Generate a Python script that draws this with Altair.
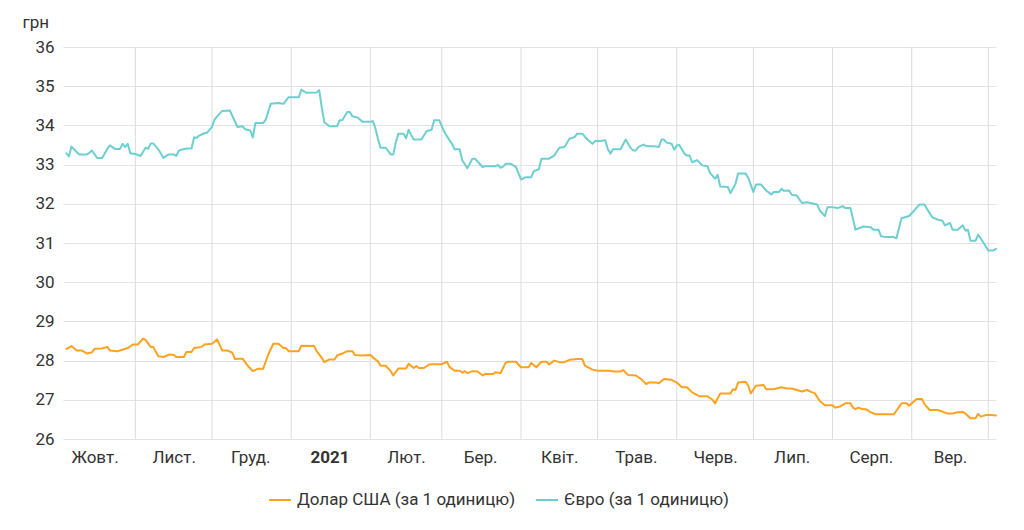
import altair as alt
import pandas as pd

usd_name = "Долар США (за 1 одиницю)"
eur_name = "Євро (за 1 одиницю)"

usd_dates = [
    "2020-10-05", "2020-10-07", "2020-10-09", "2020-10-11", "2020-10-12", "2020-10-13", "2020-10-15",
    "2020-10-16", "2020-10-19", "2020-10-21", "2020-10-22", "2020-10-25", "2020-10-29", "2020-10-31",
    "2020-11-02", "2020-11-04", "2020-11-05", "2020-11-07", "2020-11-08", "2020-11-10", "2020-11-12",
    "2020-11-14", "2020-11-16", "2020-11-17", "2020-11-20", "2020-11-21", "2020-11-23", "2020-11-24",
    "2020-11-27", "2020-11-28", "2020-12-01", "2020-12-03", "2020-12-05", "2020-12-07", "2020-12-09",
    "2020-12-10", "2020-12-12", "2020-12-13", "2020-12-15", "2020-12-17", "2020-12-19", "2020-12-21",
    "2020-12-23", "2020-12-25", "2020-12-27", "2020-12-29", "2020-12-30", "2020-12-31", "2021-01-04",
    "2021-01-05", "2021-01-10", "2021-01-11", "2021-01-13", "2021-01-14", "2021-01-16", "2021-01-18",
    "2021-01-19", "2021-01-21", "2021-01-23", "2021-01-25", "2021-01-26", "2021-01-29", "2021-02-01",
    "2021-02-03", "2021-02-04", "2021-02-05", "2021-02-07", "2021-02-09", "2021-02-10", "2021-02-12",
    "2021-02-15", "2021-02-16", "2021-02-18", "2021-02-19", "2021-02-20", "2021-02-22", "2021-02-24",
    "2021-02-26", "2021-03-01", "2021-03-03", "2021-03-04", "2021-03-06", "2021-03-08", "2021-03-09",
    "2021-03-10", "2021-03-11", "2021-03-13", "2021-03-15", "2021-03-17", "2021-03-18", "2021-03-21",
    "2021-03-22", "2021-03-24", "2021-03-26", "2021-03-27", "2021-03-30", "2021-04-01", "2021-04-04",
    "2021-04-05", "2021-04-07", "2021-04-09", "2021-04-11", "2021-04-12", "2021-04-14", "2021-04-16",
    "2021-04-18", "2021-04-20", "2021-04-23", "2021-04-25", "2021-04-26", "2021-04-29", "2021-05-01",
    "2021-05-05", "2021-05-08", "2021-05-10", "2021-05-11", "2021-05-13", "2021-05-16", "2021-05-18",
    "2021-05-20", "2021-05-21", "2021-05-24", "2021-05-25", "2021-05-27", "2021-05-30", "2021-06-01",
    "2021-06-03", "2021-06-05", "2021-06-07", "2021-06-10", "2021-06-13", "2021-06-15", "2021-06-16",
    "2021-06-18", "2021-06-22", "2021-06-23", "2021-06-24", "2021-06-25", "2021-06-28", "2021-06-29",
    "2021-06-30", "2021-07-02", "2021-07-05", "2021-07-06", "2021-07-09", "2021-07-10", "2021-07-12",
    "2021-07-14", "2021-07-16", "2021-07-18", "2021-07-20", "2021-07-22", "2021-07-24", "2021-07-25",
    "2021-07-27", "2021-07-29", "2021-08-01", "2021-08-02", "2021-08-04", "2021-08-06", "2021-08-08",
    "2021-08-09", "2021-08-10", "2021-08-11", "2021-08-13", "2021-08-14", "2021-08-16", "2021-08-18",
    "2021-08-25", "2021-08-26", "2021-08-28", "2021-08-30", "2021-08-31", "2021-09-02", "2021-09-03",
    "2021-09-05", "2021-09-06", "2021-09-08", "2021-09-11", "2021-09-13", "2021-09-15", "2021-09-17",
    "2021-09-19", "2021-09-21", "2021-09-22", "2021-09-24", "2021-09-26", "2021-09-27", "2021-09-28",
    "2021-09-30", "2021-10-02", "2021-10-04",
]
usd_values = [
    28.30, 28.37, 28.26, 28.26, 28.22, 28.18, 28.21,
    28.30, 28.31, 28.35, 28.26, 28.24, 28.32, 28.41,
    28.41, 28.56, 28.53, 28.35, 28.35, 28.11, 28.09,
    28.15, 28.15, 28.09, 28.09, 28.22, 28.22, 28.32,
    28.35, 28.41, 28.43, 28.54, 28.26, 28.26, 28.20,
    28.04, 28.05, 28.05, 27.87, 27.73, 27.79, 27.79,
    28.15, 28.43, 28.43, 28.32, 28.32, 28.24, 28.24,
    28.38, 28.37, 28.24, 28.07, 27.96, 28.03, 28.03,
    28.13, 28.18, 28.24, 28.24, 28.14, 28.13, 28.14,
    28.03, 27.98, 27.87, 27.87, 27.73, 27.62, 27.80,
    27.80, 27.92, 27.81, 27.86, 27.81, 27.81, 27.90,
    27.91, 27.91, 27.97, 27.84, 27.74, 27.74, 27.69,
    27.73, 27.68, 27.73, 27.72, 27.62, 27.66, 27.66,
    27.70, 27.68, 27.95, 27.97, 27.97, 27.83, 27.83,
    27.94, 27.83, 27.97, 27.97, 27.90, 28.00, 27.96,
    27.96, 28.02, 28.04, 28.04, 27.87, 27.77, 27.74,
    27.74, 27.72, 27.72, 27.76, 27.63, 27.62, 27.53,
    27.40, 27.44, 27.44, 27.42, 27.53, 27.51, 27.44,
    27.32, 27.32, 27.19, 27.09, 27.09, 27.00, 26.91,
    27.16, 27.16, 27.27, 27.25, 27.44, 27.46, 27.36,
    27.16, 27.36, 27.38, 27.27, 27.27, 27.29, 27.32,
    27.29, 27.29, 27.25, 27.21, 27.25, 27.19, 27.17,
    26.97, 26.86, 26.86, 26.80, 26.83, 26.91, 26.91,
    26.80, 26.76, 26.80, 26.76, 26.76, 26.68, 26.63,
    26.63, 26.72, 26.91, 26.91, 26.85, 26.97, 27.02,
    27.02, 26.89, 26.74, 26.74, 26.70, 26.65, 26.65,
    26.68, 26.69, 26.65, 26.53, 26.53, 26.64, 26.57,
    26.61, 26.61, 26.60,
]

eur_dates = [
    "2020-10-05", "2020-10-06", "2020-10-07", "2020-10-09", "2020-10-10", "2020-10-13", "2020-10-14",
    "2020-10-15", "2020-10-17", "2020-10-19", "2020-10-21", "2020-10-22", "2020-10-24", "2020-10-26",
    "2020-10-27", "2020-10-28", "2020-10-29", "2020-10-30", "2020-11-01", "2020-11-03", "2020-11-05",
    "2020-11-06", "2020-11-07", "2020-11-08", "2020-11-10", "2020-11-12", "2020-11-14", "2020-11-16",
    "2020-11-17", "2020-11-18", "2020-11-19", "2020-11-21", "2020-11-23", "2020-11-24", "2020-11-25",
    "2020-11-26", "2020-11-28", "2020-11-29", "2020-12-01", "2020-12-02", "2020-12-03", "2020-12-05",
    "2020-12-08", "2020-12-09", "2020-12-11", "2020-12-13", "2020-12-14", "2020-12-16", "2020-12-17",
    "2020-12-18", "2020-12-21", "2020-12-22", "2020-12-24", "2020-12-27", "2020-12-29", "2020-12-30",
    "2020-12-31", "2021-01-04", "2021-01-05", "2021-01-07", "2021-01-11", "2021-01-12", "2021-01-13",
    "2021-01-14", "2021-01-16", "2021-01-19", "2021-01-20", "2021-01-21", "2021-01-23", "2021-01-24",
    "2021-01-25", "2021-01-27", "2021-01-29", "2021-02-01", "2021-02-02", "2021-02-03", "2021-02-04",
    "2021-02-05", "2021-02-07", "2021-02-09", "2021-02-10", "2021-02-11", "2021-02-12", "2021-02-14",
    "2021-02-15", "2021-02-16", "2021-02-17", "2021-02-18", "2021-02-21", "2021-02-23", "2021-02-25",
    "2021-02-26", "2021-02-28", "2021-03-02", "2021-03-04", "2021-03-05", "2021-03-06", "2021-03-08",
    "2021-03-09", "2021-03-11", "2021-03-13", "2021-03-14", "2021-03-17", "2021-03-18", "2021-03-22",
    "2021-03-23", "2021-03-24", "2021-03-25", "2021-03-26", "2021-03-28", "2021-03-30", "2021-04-01",
    "2021-04-03", "2021-04-05", "2021-04-06", "2021-04-08", "2021-04-09", "2021-04-12", "2021-04-14",
    "2021-04-16", "2021-04-18", "2021-04-20", "2021-04-22", "2021-04-23", "2021-04-25", "2021-04-27",
    "2021-04-29", "2021-04-30", "2021-05-02", "2021-05-04", "2021-05-05", "2021-05-06", "2021-05-07",
    "2021-05-10", "2021-05-12", "2021-05-14", "2021-05-15", "2021-05-16", "2021-05-17", "2021-05-19",
    "2021-05-20", "2021-05-23", "2021-05-25", "2021-05-26", "2021-05-27", "2021-05-28", "2021-05-30",
    "2021-05-31", "2021-06-01", "2021-06-02", "2021-06-04", "2021-06-05", "2021-06-06", "2021-06-07",
    "2021-06-09", "2021-06-11", "2021-06-13", "2021-06-14", "2021-06-16", "2021-06-17", "2021-06-18",
    "2021-06-21", "2021-06-22", "2021-06-24", "2021-06-25", "2021-06-28", "2021-06-29", "2021-07-01",
    "2021-07-02", "2021-07-04", "2021-07-06", "2021-07-08", "2021-07-09", "2021-07-11", "2021-07-12",
    "2021-07-13", "2021-07-15", "2021-07-16", "2021-07-18", "2021-07-20", "2021-07-22", "2021-07-26",
    "2021-07-27", "2021-07-29", "2021-07-30", "2021-08-01", "2021-08-03", "2021-08-05", "2021-08-06",
    "2021-08-08", "2021-08-10", "2021-08-13", "2021-08-16", "2021-08-17", "2021-08-19", "2021-08-20",
    "2021-08-22", "2021-08-25", "2021-08-26", "2021-08-28", "2021-08-31", "2021-09-02", "2021-09-04",
    "2021-09-06", "2021-09-07", "2021-09-09", "2021-09-11", "2021-09-13", "2021-09-14", "2021-09-16",
    "2021-09-17", "2021-09-19", "2021-09-21", "2021-09-22", "2021-09-23", "2021-09-24", "2021-09-26",
    "2021-09-27", "2021-09-28", "2021-10-01", "2021-10-03", "2021-10-04",
]
eur_values = [
    33.29, 33.21, 33.46, 33.32, 33.26, 33.26, 33.30,
    33.36, 33.17, 33.17, 33.40, 33.49, 33.40, 33.40,
    33.53, 33.45, 33.53, 33.29, 33.27, 33.22, 33.43,
    33.40, 33.54, 33.54, 33.39, 33.17, 33.26, 33.26,
    33.22, 33.35, 33.38, 33.41, 33.41, 33.70, 33.68,
    33.74, 33.80, 33.81, 33.96, 34.15, 34.23, 34.37,
    34.38, 34.24, 33.96, 33.98, 33.90, 33.87, 33.69,
    34.06, 34.06, 34.14, 34.55, 34.57, 34.55, 34.63,
    34.72, 34.72, 34.91, 34.83, 34.84, 34.90, 34.45,
    34.08, 33.98, 33.98, 34.13, 34.13, 34.34, 34.34,
    34.23, 34.20, 34.09, 34.09, 34.11, 33.92, 33.66,
    33.43, 33.43, 33.26, 33.26, 33.57, 33.79, 33.79,
    33.67, 33.89, 33.75, 33.64, 33.64, 33.85, 33.89,
    34.13, 34.13, 33.83, 33.62, 33.53, 33.39, 33.39,
    33.11, 32.91, 33.15, 33.15, 32.94, 32.96, 32.96,
    32.99, 32.92, 32.95, 33.02, 33.02, 32.94, 32.62,
    32.68, 32.68, 32.83, 32.88, 33.15, 33.15, 33.23,
    33.43, 33.45, 33.66, 33.70, 33.79, 33.79, 33.64,
    33.53, 33.60, 33.60, 33.62, 33.40, 33.28, 33.39,
    33.39, 33.64, 33.42, 33.36, 33.36, 33.45, 33.51,
    33.47, 33.47, 33.45, 33.64, 33.64, 33.56, 33.53,
    33.38, 33.49, 33.50, 33.28, 33.23, 33.23, 33.06,
    33.11, 32.98, 32.96, 32.79, 32.64, 32.74, 32.44,
    32.43, 32.27, 32.51, 32.77, 32.77, 32.66, 32.30,
    32.49, 32.49, 32.34, 32.24, 32.30, 32.30, 32.38,
    32.33, 32.34, 32.23, 32.21, 32.02, 32.04, 31.98,
    31.83, 31.69, 31.91, 31.91, 31.89, 31.94, 31.89,
    31.89, 31.34, 31.42, 31.40, 31.34, 31.34, 31.17,
    31.15, 31.15, 31.12, 31.63, 31.69, 31.83, 31.98,
    31.98, 31.87, 31.66, 31.60, 31.57, 31.45, 31.51,
    31.34, 31.34, 31.45, 31.32, 31.34, 31.06, 31.06,
    31.21, 31.12, 30.81, 30.81, 30.85,
]

month_starts = [
    "2020-11-01", "2020-12-01", "2021-01-01", "2021-02-01", "2021-03-01", "2021-04-01",
    "2021-05-01", "2021-06-01", "2021-07-01", "2021-08-01", "2021-09-01", "2021-10-01",
]
label_dates = [
    "2020-10-16", "2020-11-16", "2020-12-16", "2021-01-16", "2021-02-15", "2021-03-16",
    "2021-04-16", "2021-05-16", "2021-06-16", "2021-07-16", "2021-08-16", "2021-09-16",
]
month_names = ["Січ.", "Лют.", "Бер.", "Квіт.", "Трав.", "Черв.",
               "Лип.", "Серп.", "Вер.", "Жовт.", "Лист.", "Груд."]
y_ticks = [26, 27, 28, 29, 30, 31, 32, 33, 34, 35, 36]
x_domain = ["2020-10-03T16:00:00", "2021-10-04T00:00:00"]
colors = ["#ffa21f", "#6dcfd0"]


def to_dt(s):
    t = pd.Timestamp(s)
    return alt.DateTime(year=t.year, month=t.month, date=t.day, hours=t.hour)


df = pd.concat([
    pd.DataFrame({"date": [d + "T00:00:00" for d in usd_dates], "value": usd_values, "series": usd_name}),
    pd.DataFrame({"date": [d + "T00:00:00" for d in eur_dates], "value": eur_values, "series": eur_name}),
])
grid_df = pd.DataFrame({"date": [d + "T00:00:00" for d in month_starts]})

names_js = "[" + ",".join("'" + m + "'" for m in month_names) + "]"
label_expr = f"month(datum.value) == 0 ? '' + year(datum.value) : {names_js}[month(datum.value)]"

x_axis = alt.Axis(
    values=[to_dt(d) for d in label_dates],
    labelExpr=label_expr,
    labelFontWeight={"condition": {"test": "month(datum.value) == 0", "value": "bold"}, "value": "normal"},
    grid=False, ticks=False, tickSize=0, domain=False,
    labelFontSize=17, labelColor="#333333", labelPadding=10, labelAlign="center",
    labelFlush=False, labelOverlap=False, title=None,
)
x_scale = alt.Scale(domain=[to_dt(d) for d in x_domain])

rules = alt.Chart(grid_df).mark_rule(color="#dcdcdc", strokeWidth=1).encode(
    x=alt.X("date:T", scale=x_scale, axis=x_axis),
)

lines = alt.Chart(df).mark_line(strokeWidth=2, strokeJoin="round", strokeCap="round").encode(
    x=alt.X("date:T", scale=x_scale, axis=x_axis),
    y=alt.Y(
        "value:Q",
        scale=alt.Scale(domain=[26, 36], nice=False, zero=False),
        axis=alt.Axis(
            values=y_ticks, title="грн", titleAngle=0, titleAlign="left", titleBaseline="alphabetic",
            titleX=-41, titleY=-20, titleFontSize=17, titleFontWeight="normal", titleColor="#333333",
            labelFontSize=17, labelColor="#333333", labelPadding=9, ticks=False, tickSize=0,
            domain=False, gridColor="#e3e3e3", gridWidth=1,
        ),
    ),
    color=alt.Color(
        "series:N",
        scale=alt.Scale(domain=[usd_name, eur_name], range=colors),
        legend=alt.Legend(
            title=None, orient="none", legendX=205, legendY=441, direction="horizontal",
            symbolType="stroke", symbolSize=484, symbolStrokeWidth=2, labelFontSize=17,
            labelColor="#333333", labelOffset=5, columnPadding=16, padding=0, labelLimit=600,
        ),
    ),
    order=alt.Order("date:T"),
)

chart = alt.layer(rules, lines).properties(
    width=933, height=392,
    padding={"left": 55, "top": 39, "right": 20, "bottom": 70},
    autosize=alt.AutoSizeParams(type="none"),
).configure(font="Roboto").configure_view(stroke=None)

chart.save("out.html", embed_options={"renderer": "svg", "actions": False})
